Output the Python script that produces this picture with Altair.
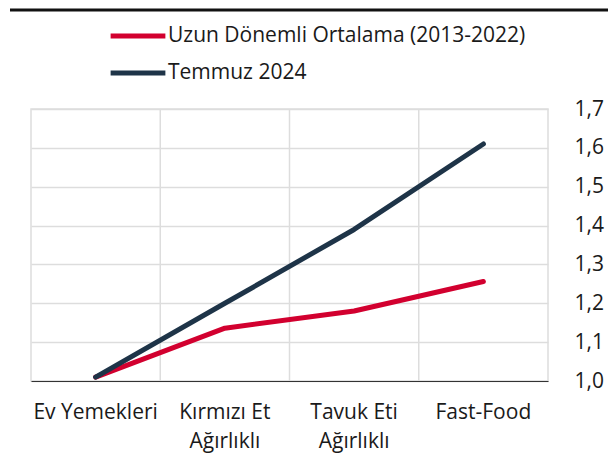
import altair as alt
import pandas as pd

categories = ["Ev Yemekleri", "Kırmızı Et Ağırlıklı", "Tavuk Eti Ağırlıklı", "Fast-Food"]
series_names = ["Uzun Dönemli Ortalama (2013-2022)", "Temmuz 2024"]
long_avg = [1.01, 1.136, 1.18, 1.256]
july_2024 = [1.01, 1.20, 1.39, 1.61]
colors = ["#D2002F", "#1E3448"]

rows = []
for name, vals in zip(series_names, [long_avg, july_2024]):
    for c, v in zip(categories, vals):
        rows.append({"cat": c, "series": name, "value": v})
df = pd.DataFrame(rows)
grid_df = pd.DataFrame({"cat": categories[1:]})

FONT = "Open Sans"
FS = 21

xscale = alt.Scale(domain=categories, paddingInner=0, paddingOuter=0)
xaxis = alt.Axis(grid=False, ticks=False, domainColor="#333333", domainWidth=1,
                 bandPosition=0.5,
                 labelAngle=0, labelFont=FONT, labelFontSize=FS, labelColor="#1a1a1a",
                 labelPadding=20, labelLineHeight=29, labelBaseline="top",
                 labelExpr="indexof(datum.label, ' Ağırlıklı') > 0 ? [replace(datum.label, ' Ağırlıklı', ''), 'Ağırlıklı'] : datum.label")

lines = alt.Chart(df).mark_line(strokeWidth=5, strokeCap="round", strokeJoin="round").encode(
    x=alt.X("cat:N", sort=categories, title=None, scale=xscale, axis=xaxis),
    y=alt.Y("value:Q", title=None,
            scale=alt.Scale(domain=[1.0, 1.7], nice=False, zero=False),
            axis=alt.Axis(orient="right", values=[1.0, 1.1, 1.2, 1.3, 1.4, 1.5, 1.6, 1.7],
                          grid=True, gridColor="#dddddd", gridWidth=1.5, ticks=False, domain=False,
                          labelFont=FONT, labelFontSize=FS, labelColor="#1a1a1a", labelPadding=26,
                          labelExpr="replace(format(datum.value, '.1f'), '.', ',')")),
    color=alt.Color("series:N", sort=series_names,
                    scale=alt.Scale(domain=series_names, range=colors),
                    legend=alt.Legend(title=None, orient="none", legendX=77, legendY=-84,
                                      direction="vertical", symbolType="stroke",
                                      symbolSize=3000, symbolStrokeWidth=5, clipHeight=22,
                                      labelFont=FONT, labelFontSize=FS, labelColor="#1a1a1a",
                                      labelLimit=500, rowPadding=15, labelOffset=0)),
)

vgrid = alt.Chart(grid_df).mark_rule(color="#dddddd", strokeWidth=1.5).encode(
    x=alt.X("cat:N", sort=categories, title=None, scale=xscale, bandPosition=0, axis=xaxis),
    y=alt.value(0), y2=alt.value(272),
)

top_rule = alt.Chart(pd.DataFrame({"a": [0]})).mark_rule(color="#111111", strokeWidth=3).encode(
    x=alt.value(-21), x2=alt.value(577), y=alt.value(-99)
)

chart = alt.layer(vgrid, lines, top_rule).properties(
    width=517, height=272,
    padding={"left": 23, "top": 101, "right": 60, "bottom": 80},
    autosize=alt.AutoSizeParams(type="none"),
).configure_view(stroke="#dddddd", strokeWidth=1.5)

chart.save("out.html", embed_options={"renderer": "svg", "actions": False})
